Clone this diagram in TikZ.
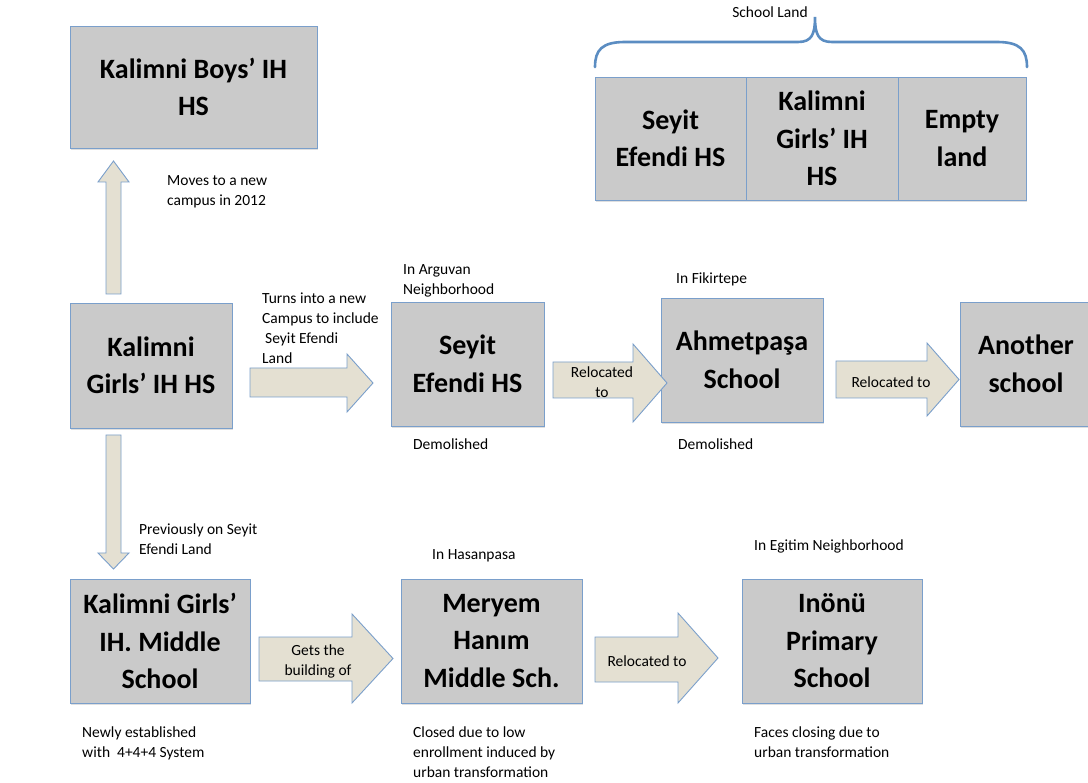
\documentclass[tikz,border=0pt]{standalone}
\usepackage{fontspec}
\setmainfont{Carlito}
\usetikzlibrary{shadows}
\definecolor{boxfill}{HTML}{CACACA}
\definecolor{boxline}{HTML}{7A9FCB}
\definecolor{arrfill}{HTML}{E4E0D2}
\definecolor{bracecol}{HTML}{5B8DC2}
\begin{document}
\begin{tikzpicture}[x=1pt,y=-1pt,
  box/.style={draw=boxline, fill=boxfill, line width=0.9pt, rectangle, align=center,
    font=\fontsize{28}{37.5}\selectfont\bfseries, inner sep=0pt,
    drop shadow={opacity=0.25,shadow xshift=1pt,shadow yshift=-2pt}},
  cell/.style={draw=boxline, fill=boxfill, line width=0.9pt, rectangle, align=center,
    font=\fontsize{28}{37.5}\selectfont\bfseries, inner sep=0pt},
  note/.style={anchor=north west, align=left, inner sep=0pt, font=\fontsize{15.5}{20}\selectfont},
  barrow/.style={draw=boxline, fill=arrfill, line width=0.9pt, line join=miter},
  alabel/.style={align=center, inner sep=0pt, font=\fontsize{15.5}{20}\selectfont}]
\clip (0,0) rectangle (1088,783);
\useasboundingbox (0,0) rectangle (1088,783);
\fill[white] (0,0) rectangle (1088,783);

% boxes
\node[box, minimum width=247, minimum height=122] (boys) at (193.5,87) {Kalimni Boys’ IH\\HS};
\node[box, minimum width=162, minimum height=125] (girls) at (151,365.5) {Kalimni\\Girls’ IH HS};
\node[box, minimum width=153, minimum height=124] (seyit) at (467.5,364) {Seyit\\Efendi HS};
\node[box, minimum width=162, minimum height=124] (ahmet) at (742,360) {Ahmetpaşa\\School};
\node[box, minimum width=132, minimum height=124] (another) at (1026,364) {Another\\school};
\node[box, minimum width=180, minimum height=124] (mid) at (160,641) {Kalimni Girls’\\IH. Middle\\School};
\node[box, minimum width=181, minimum height=124] (meryem) at (491.5,641) {Meryem\\Hanım\\Middle Sch.};
\node[box, minimum width=180, minimum height=124] (inonu) at (832,641) {Inönü\\Primary\\School};

% school land
\fill[boxfill, drop shadow={opacity=0.25,shadow xshift=1pt,shadow yshift=-2pt}] (595,77) rectangle (1026,200);
\node[cell, minimum width=151, minimum height=123] (land1) at (670.5,138.5) {Seyit\\Efendi HS};
\node[cell, minimum width=152, minimum height=123] (land2) at (822,138.5) {Kalimni\\Girls’ IH\\HS};
\node[cell, minimum width=128, minimum height=123] (land3) at (962,138.5) {Empty\\land};

% brace
\draw[bracecol, line width=2.6pt, line cap=round]
  (595,67) .. controls (595,50) and (602,42) .. (625,42) -- (798,42)
  .. controls (812,42) and (815,34) .. (815,17)
  .. controls (815,34) and (818,42) .. (832,42) -- (997,42)
  .. controls (1020,42) and (1027,50) .. (1027,67);
\node[alabel, anchor=base] (landlbl) at (770,18) {School Land};

% block arrows
\draw[barrow] (106,294) -- (106,182) -- (98,182) -- (113.5,161) -- (129,182) -- (121,182) -- (121,294) -- cycle;
\draw[barrow] (106,435) -- (106,553) -- (98,553) -- (113.5,569) -- (129,553) -- (121,553) -- (121,435) -- cycle;
\draw[barrow] (250,368) -- (347,368) -- (347,354) -- (373,383) -- (347,412) -- (347,397) -- (250,397) -- cycle;
\draw[barrow] (553,362) -- (633,362) -- (633,344) -- (667,383) -- (633,422) -- (633,398) -- (553,398) -- cycle;
\node[alabel] (rel1) at (602,382) {Relocated\\to};
\draw[barrow] (836,361) -- (927,361) -- (927,343) -- (959,379.5) -- (927,416) -- (927,398) -- (836,398) -- cycle;
\node[alabel] (rel2) at (891,382) {Relocated to};
\draw[barrow] (259,637) -- (352,637) -- (352,614) -- (393,658.5) -- (352,703) -- (352,681) -- (259,681) -- cycle;
\node[alabel] (gets) at (318,661) {Gets the\\building of};
\draw[barrow] (595,637) -- (678,637) -- (678,613) -- (718,658) -- (678,703) -- (678,682) -- (595,682) -- cycle;
\node[alabel] (rel3) at (647,661) {Relocated to};

% notes
\node[note] (n1) at (167,175) {Moves to a new\\campus in 2012};
\node[note] (n2) at (262,292.5) {Turns into a new\\Campus to include\\\hspace{3pt}Seyit Efendi\\Land};
\node[note] (n3) at (403,264.5) {In Arguvan\\Neighborhood};
\node[note] (n4) at (413,438.5) {Demolished};
\node[note] (n5) at (676,272.5) {In Fikirtepe};
\node[note] (n6) at (678,438.5) {Demolished};
\node[note] (n7) at (139,523.5) {Previously on Seyit\\Efendi Land};
\node[note] (n8) at (432,549.5) {In Hasanpasa};
\node[note] (n9) at (754,539.5) {In Egitim Neighborhood};
\node[note] (n10) at (82,726.5) {Newly established\\with\ \ 4+4+4 System};
\node[note] (n11) at (413,726.5) {Closed due to low\\enrollment induced by\\urban transformation};
\node[note] (n12) at (754,726.5) {Faces closing due to\\urban transformation};
\end{tikzpicture}
\end{document}
